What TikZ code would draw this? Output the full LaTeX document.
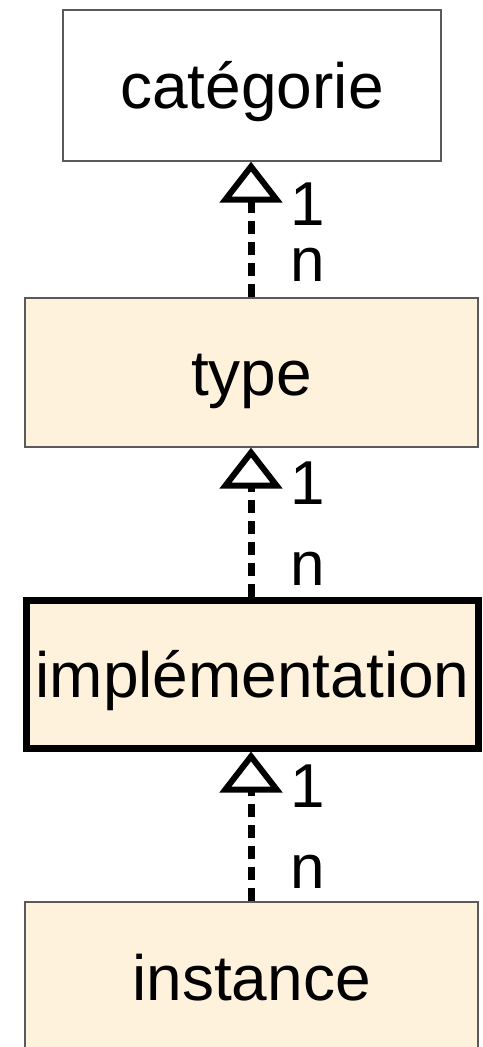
\documentclass[tikz,border=0pt]{standalone}
\usepackage{fontspec}
\setmainfont{Liberation Sans}
\usetikzlibrary{arrows.meta}
\definecolor{cream}{HTML}{FFF2DC}
\definecolor{edge}{HTML}{5A5A5A}
\tikzset{
  box/.style={draw=edge, line width=1.3pt, rectangle, inner sep=0pt,
    font=\fontsize{64}{64}\selectfont, text height=46pt, text depth=0pt},
  dep/.style={line width=7pt, dash pattern=on 13pt off 8pt,
    -{Triangle[open, length=41pt, width=62pt, line width=6pt]}},
  mult/.style={inner sep=0pt, anchor=base west, font=\fontsize{62}{62}\selectfont}
}
\begin{document}
\begin{tikzpicture}[x=1pt,y=-1pt]
\useasboundingbox (0,0) rectangle (482,1047);
\node[box, fill=white, minimum width=378pt, minimum height=151pt] (cat) at (252,85.5) {catégorie};
\node[box, fill=cream, minimum width=453pt, minimum height=149pt] (typ) at (251.5,372.5) {type};
\node[box, fill=cream, draw=black, line width=7pt, minimum width=452pt, minimum height=148pt] (impl) at (252.5,674) {implémentation};
\node[box, fill=cream, minimum width=453pt, minimum height=150pt] (inst) at (251.5,977) {instance};
\draw[dep] (typ.north -| 251,0) coordinate (a1s) -- (cat.south -| 251,0) coordinate (a1e);
\draw[dep] (impl.north -| 251,0) coordinate (a2s) -- (typ.south -| 251,0) coordinate (a2e);
\draw[dep] (inst.north -| 251,0) coordinate (a3s) -- (impl.south -| 251,0) coordinate (a3e);
\node[mult] (o1) at (290,225) {1};
\node[mult] (m1) at (290,281) {n};
\node[mult] (o2) at (290,504) {1};
\node[mult] (m2) at (290,585) {n};
\node[mult] (o3) at (290,807) {1};
\node[mult] (m3) at (290,888) {n};
\end{tikzpicture}
\end{document}
